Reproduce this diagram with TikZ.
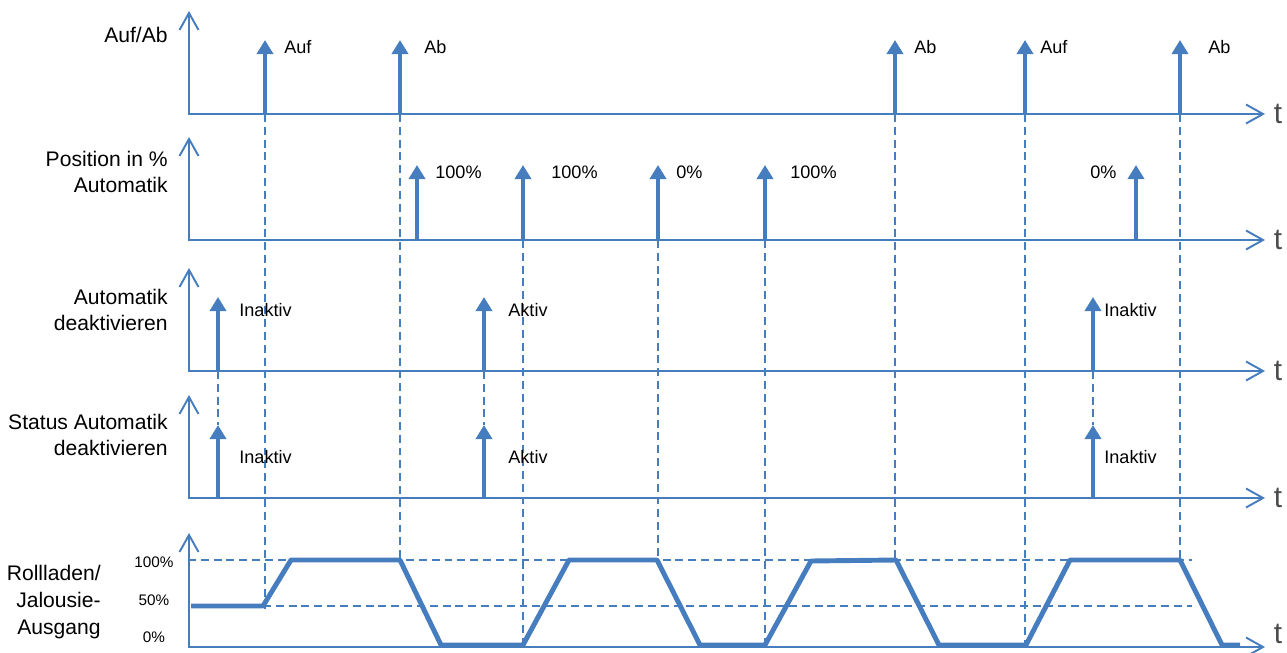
\documentclass[tikz,border=0pt]{standalone}
\usepackage{fontspec}
\setmainfont{Liberation Sans}
\usetikzlibrary{arrows.meta}
\definecolor{sigblue}{RGB}{70,125,190}
\tikzset{
  axis/.style={
    draw=sigblue, line width=1.1pt,
    {Straight Barb[length=3.4mm,width=3.8mm]}-{Straight Barb[length=3.4mm,width=3.8mm]},
  },
  pulse/.style={draw=sigblue, line width=2.3pt, -{Triangle[length=2.8mm,width=3.2mm]}},
  guide/.style={draw=sigblue, line width=1pt, dash pattern=on 4.5pt off 2.8pt},
  wave/.style={draw=sigblue, line width=2.8pt, line join=round},
  signame/.style={anchor=east, align=right, inner sep=0pt, font=\fontsize{12}{15.3}\selectfont},
  event/.style={anchor=west, inner sep=0pt, font=\fontsize{10.3}{12}\selectfont},
  level/.style={inner sep=0pt, font=\fontsize{8.7}{10}\selectfont},
  timelabel/.style={anchor=west, xshift=1.6mm, inner sep=0pt, text=black!70, font=\fontsize{17}{17}\selectfont},
}

\begin{document}
\begin{tikzpicture}[x=0.2mm, y=-0.2mm]
\useasboundingbox (0,0) rectangle (1287,653);

% ---- dashed guides --------------------------------------------------------
\foreach \x/\top/\bot in {265/114/612, 400/114/560, 523/240/645, 658/240/560,
                          765/240/645, 895/114/560, 1025/114/645, 1180/114/560}
  \draw[guide] (\x,\top) -- (\x,\bot);
\foreach \x in {218, 484, 1093}
  \draw[guide] (\x,371) -- (\x,425);
\draw[guide] (188,560) -- (1192,560);
\draw[guide] (263,606) -- (1192,606);

% ---- axes -----------------------------------------------------------------
\foreach \b/\h/\dy [count=\r] in {114/103/0, 240/103/0, 371/103/0, 498/103/0, 647/114/2.6}
  \draw[axis] (189,\b-\h) -- (189,\b) -- (1265,\b)
    node[timelabel, yshift=\dy mm] (t\r) {t};

% ---- signal names ---------------------------------------------------------
\node[signame] (sAufAb) at (168,35)  {Auf/Ab};
\node[signame] (sPos)   at (168,172) {Position in \%\\Automatik};
\node[signame] (sAuto)  at (168,310) {Automatik\\deaktivieren};
\node[signame] (sStat)  at (168,435) {Status Automatik\\deaktivieren};
\node[signame] (sOut)   at (101,602) {Rollladen/\\Jalousie-\\Ausgang};

\node[level] (l100) at (154,562) {100\%};
\node[level] (l50)  at (154,600) {50\%};
\node[level] (l0)   at (154,637) {0\%};

% ---- events ---------------------------------------------------------------
\foreach \x/\lx/\txt [count=\i] in {265/284/Auf, 400/424/Ab, 895/914/Ab,
                                    1025/1040/Auf, 1180/1208/Ab} {
  \draw[pulse] (\x,114) -- (\x,40);
  \node[event] (ab\i) at (\lx,47) {\txt};
}
\foreach \x/\lx/\txt [count=\i] in {417/435/100\%, 523/551/100\%, 658/676/0\%,
                                    765/790/100\%, 1136/1090/0\%} {
  \draw[pulse] (\x,240) -- (\x,165);
  \node[event] (pos\i) at (\lx,172) {\txt};
}
\foreach \x/\lx/\txt [count=\i] in {218/239/Inaktiv, 484/508/Aktiv, 1093/1104/Inaktiv} {
  \draw[pulse] (\x,371) -- (\x,297);
  \draw[pulse] (\x,498) -- (\x,425);
  \node[event] (deak\i) at (\lx,310) {\txt};
  \node[event] (stat\i) at (\lx,457) {\txt};
}

% ---- output ---------------------------------------------------------------
\draw[wave] (191,606) -- (263,606) -- (291,560) -- (400,560) -- (441,645)
  -- (523,645) -- (569,560) -- (657,560) -- (700,645) -- (765,645)
  -- (811,561) -- (896,560) -- (939,645) -- (1026,645) -- (1070,560)
  -- (1180,560) -- (1222,645) -- (1240,645);

\end{tikzpicture}
\end{document}
